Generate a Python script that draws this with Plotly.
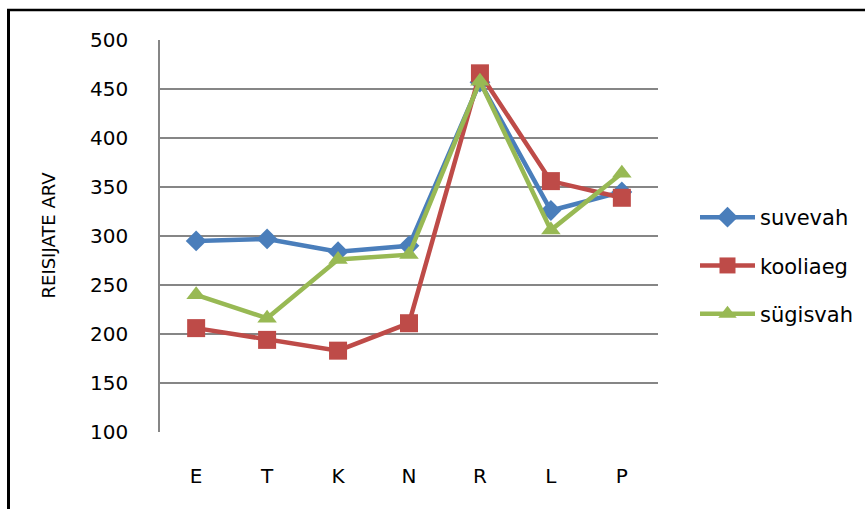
import plotly.graph_objects as go

categories = ["E", "T", "K", "N", "R", "L", "P"]
suvevah = [295, 297, 284, 290, 457, 326, 345]
kooliaeg = [206, 194, 183, 211, 466, 356, 339]
sugisvah = [240, 216, 276, 281, 458, 306, 364]
y_ticks = [100, 150, 200, 250, 300, 350, 400, 450, 500]

FONT = "DejaVu Sans"

series = [
    ("suvevah", suvevah, "#4A7EBB", "diamond", 16),
    ("kooliaeg", kooliaeg, "#BE4B48", "square", 18),
    ("sügisvah", sugisvah, "#98B954", "triangle-up", 17),
]

fig = go.Figure()
for i, (name, vals, color, sym, size) in enumerate(series):
    fig.add_trace(go.Scatter(
        x=categories, y=vals, name=name, mode="lines+markers",
        legendgroup=f"g{i}",
        line=dict(color=color, width=4.5),
        marker=dict(symbol=sym, size=size, color=color),
    ))

W, H = 865, 509
L, R, T, B = 160, 207, 40, 77
pw, ph = W - L - R, H - T - B

def px(x):
    return (x - L) / pw

def py(y):
    return (H - B - y) / ph

fig.update_layout(
    width=W, height=H,
    margin=dict(l=L, r=R, t=T, b=B, autoexpand=False),
    paper_bgcolor="white", plot_bgcolor="white",
    font=dict(family=FONT, size=20, color="#000000"),
    showlegend=True,
    legend=dict(
        x=px(695), y=py(197), xanchor="left", yanchor="top",
        font=dict(family=FONT, size=21, color="#000000"),
        tracegroupgap=18, itemwidth=55, traceorder="grouped",
        bgcolor="rgba(0,0,0,0)",
    ),
    xaxis=dict(
        showgrid=False, showline=False, zeroline=False,
        ticks="", tickfont=dict(size=20), ticklabelstandoff=30,
    ),
    yaxis=dict(
        range=[100, 500], tickvals=y_ticks, showgrid=True,
        gridcolor="#868686", gridwidth=1.5, zeroline=False,
        showline=True, linecolor="#868686", linewidth=1.5,
        ticks="", tickfont=dict(size=20), ticklabelstandoff=26,
    ),
    annotations=[dict(
        text="REISIJATE ARV", x=px(35), y=py(235), xref="paper", yref="paper",
        textangle=-90, showarrow=False, font=dict(family=FONT, size=18),
    )],
    shapes=[
        dict(type="line", xref="paper", yref="paper",
             x0=px(7), x1=px(900), y0=py(10), y1=py(10),
             line=dict(color="black", width=2.5)),
        dict(type="line", xref="paper", yref="paper",
             x0=px(8.5), x1=px(8.5), y0=py(10), y1=py(520),
             line=dict(color="black", width=3)),
    ],
)

fig.write_html("out.html")
